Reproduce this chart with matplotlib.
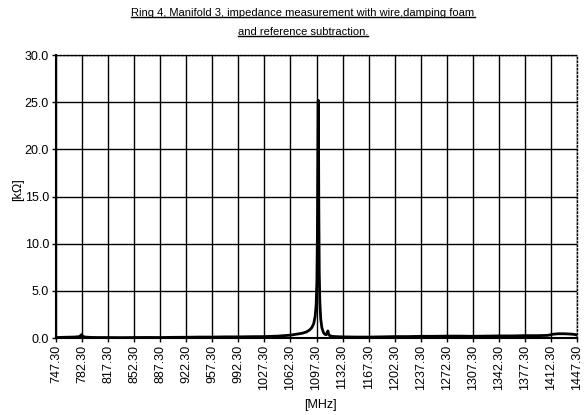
import matplotlib
matplotlib.use("Agg")
import matplotlib.pyplot as plt
from matplotlib import font_manager
from matplotlib.lines import Line2D

names = {f.name for f in font_manager.fontManager.ttflist}
font = "Liberation Sans Narrow" if "Liberation Sans Narrow" in names else "Liberation Sans"
plt.rcParams["font.family"] = [font, "DejaVu Sans"]

# impedance trace
freq_mhz = [747.3, 760, 772, 779, 781.5, 783, 786, 795, 805, 817.3, 835, 852.3, 870,
            887.3, 905, 922.3, 940, 957.3, 975, 992.3, 1010, 1027.3, 1045, 1062.3,
            1070, 1078, 1084, 1088, 1091, 1093.5, 1095.5, 1096.8, 1097.8, 1098.5,
            1099.0, 1099.4, 1099.7, 1100.0, 1100.4, 1101.0, 1101.8, 1103.0, 1104.5,
            1106.5, 1108.5, 1110.5, 1111.8, 1112.6, 1113.4, 1115, 1118, 1122,
            1132.3, 1150, 1167.3, 1185, 1202.3, 1220, 1237.3, 1255, 1272.3, 1290,
            1307.3, 1325, 1342.3, 1360, 1377.3, 1395, 1408, 1415, 1422, 1430,
            1438, 1444, 1447.3]
imp_kohm = [0.05, 0.08, 0.10, 0.15, 0.35, 0.20, 0.10, 0.06, 0.05, 0.05, 0.04, 0.05, 0.06,
            0.05, 0.07, 0.08, 0.10, 0.10, 0.12, 0.12, 0.14, 0.15, 0.20, 0.30,
            0.40, 0.50, 0.65, 0.85, 1.10, 1.50, 2.30, 3.50, 6.00, 11.0,
            18.0, 24.0, 25.2, 22.0, 14.0, 7.00, 3.80, 2.00, 1.10,
            0.60, 0.40, 0.35, 0.55, 0.75, 0.45, 0.25, 0.18, 0.15,
            0.12, 0.10, 0.10, 0.12, 0.15, 0.15, 0.18, 0.18, 0.20, 0.20,
            0.18, 0.20, 0.22, 0.22, 0.25, 0.25, 0.28, 0.40, 0.45, 0.45,
            0.42, 0.38, 0.30]

x_ticks = [747.3 + 35 * i for i in range(21)]
y_ticks = [0, 5, 10, 15, 20, 25, 30]

fig = plt.figure(figsize=(5.87, 4.15), dpi=100)
ax = fig.add_axes([56 / 587, 1 - 338 / 415, 521 / 587, 283 / 415])

ax.plot(freq_mhz, imp_kohm, color="black", lw=2.0, solid_joinstyle="round")

ax.set_xlim(747.3, 1447.3)
ax.set_ylim(0, 30)
ax.set_xticks(x_ticks)
ax.set_xticklabels([f"{v:.2f}" for v in x_ticks], rotation=90, fontsize=9)
ax.set_yticks(y_ticks)
ax.set_yticklabels([f"{v:.1f}" for v in y_ticks], fontsize=9)
ax.tick_params(direction="out", length=3, width=1, color="black", pad=2)
ax.grid(True, color="black", lw=1.0)
ax.set_axisbelow(True)

for side in ("top", "right"):
    ax.spines[side].set_linestyle(":")
    ax.spines[side].set_linewidth(1.0)
for side in ("left", "bottom"):
    ax.spines[side].set_linewidth(1.5)

fig.text(18 / 587, 1 - 190 / 415, "[kΩ]", rotation=90, ha="center", va="center", fontsize=9)
fig.text(320 / 587, 1 - 405 / 415, "[MHz]", ha="center", va="center", fontsize=9)

titles = ["Ring 4, Manifold 3, impedance measurement with wire,damping foam",
          "and reference subtraction."]
t1 = fig.text(303 / 587, 1 - 13 / 415, titles[0], ha="center", va="center", fontsize=8)
t2 = fig.text(303 / 587, 1 - 32 / 415, titles[1], ha="center", va="center", fontsize=8)

fig.canvas.draw()
r = fig.canvas.get_renderer()
for t in (t1, t2):
    bb = t.get_window_extent(r).transformed(fig.transFigure.inverted())
    fig.add_artist(Line2D([bb.x0, bb.x1], [bb.y0 + 0.003, bb.y0 + 0.003],
                          transform=fig.transFigure, color="black", lw=1.0))

fig.savefig("out.png", dpi=100)
